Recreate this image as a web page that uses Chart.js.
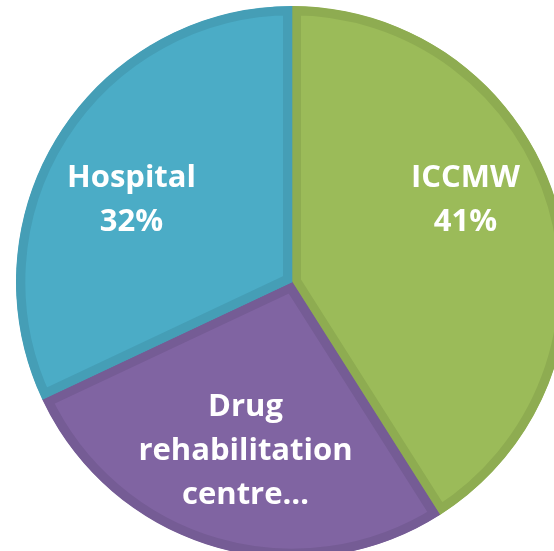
<!DOCTYPE html>
<html>
<head>
<meta charset="utf-8">
<script src="https://cdn.jsdelivr.net/npm/chart.js@4"></script>
<style>
    html, body { margin: 0; padding: 0; background: #fff; overflow: hidden; }
    #wrap { position: absolute; left: 0; top: 0; width: 584px; height: 564px; }
</style>
</head>
<body>
<div id="wrap"><canvas id="myChart" width="584" height="564"></canvas></div>
<script>
// slice data, clockwise from 12 o'clock
const categories = ["ICCMW", "Drug rehabilitation centre", "Hospital"];
const shares = [41, 27, 32];
// label text as shown on the slices
const labelLines = [
    ["ICCMW", "41%"],
    ["Drug", "rehabilitation", "centre…"],
    ["Hospital", "32%"]
];
const fillColors = ["#9bbb59", "#8064a2", "#4bacc6"];
const edgeColors = ["#8eac51", "#755c95", "#459eb6"];

// where each label sits relative to the slice centroid (px)
const labelShift = [[41, -56], [-8, 1], [-44, -21]];

// draw the white labels on top of the slices
const sliceLabels = {
    id: 'sliceLabels',
    afterDatasetsDraw(chart) {
        const ctx = chart.ctx;
        const arcs = chart.getDatasetMeta(0).data;
        ctx.save();
        ctx.fillStyle = '#ffffff';
        ctx.font = 'bold 31px "Open Sans"';
        ctx.textAlign = 'center';
        ctx.textBaseline = 'alphabetic';
        arcs.forEach((arc, i) => {
            const pos = arc.tooltipPosition();
            const x = pos.x + labelShift[i][0];
            let y = pos.y + labelShift[i][1];
            labelLines[i].forEach(line => {
                ctx.fillText(line, x, y);
                y += 44;
            });
        });
        ctx.restore();
    }
};

const ctx = document.getElementById('myChart').getContext('2d');
new Chart(ctx, {
    type: 'pie',
    data: {
        labels: categories,
        datasets: [{
            data: shares,
            backgroundColor: fillColors,
            borderColor: edgeColors,
            borderWidth: 9,
            borderAlign: 'inner',
            borderJoinStyle: 'miter'
        }]
    },
    options: {
        responsive: false,
        animation: false,
        layout: { padding: 6 },
        plugins: {
            legend: { display: false },
            tooltip: { enabled: false }
        }
    },
    plugins: [sliceLabels]
});
</script>
</body>
</html>
